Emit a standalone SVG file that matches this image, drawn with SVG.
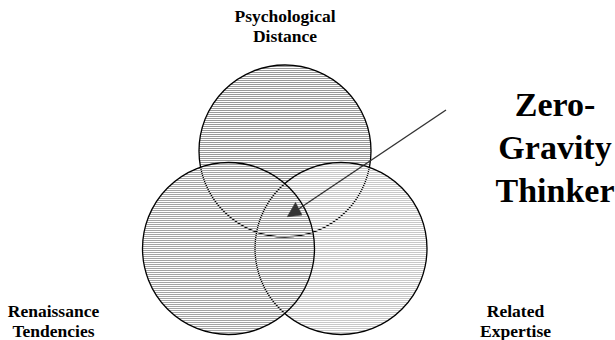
<svg xmlns="http://www.w3.org/2000/svg" width="615" height="340" viewBox="0 0 615 340">
<style>
.lbl{font-family:'Liberation Serif','Times New Roman',Tinos,'DejaVu Serif',serif;font-weight:bold;fill:#000;text-anchor:middle}
.small{font-size:17.5px}
.big{font-size:34px}
.ring{stroke:#000;stroke-width:1.3}
.conn{stroke:#333;stroke-width:1.4;fill:none}
.head{fill:#333;stroke:#333;stroke-width:0.6;stroke-linejoin:miter}
</style>
<defs>
<pattern id="hatchDark" patternUnits="userSpaceOnUse" width="8" height="2">
<rect x="0" y="0" width="8" height="1" fill="#9a9a9a"/>
</pattern>
<pattern id="hatchMid" patternUnits="userSpaceOnUse" width="8" height="2">
<rect x="0" y="0" width="8" height="1" fill="#a4a4a4"/>
</pattern>
<pattern id="hatchLight" patternUnits="userSpaceOnUse" width="8" height="2">
<rect x="0" y="0" width="8" height="1" fill="#c8c8c8"/>
</pattern>
</defs>
<g id="psychological-distance">
<circle class="ring" cx="285" cy="151" r="86" fill="url(#hatchDark)"/>
<text class="lbl small" x="285" y="22">Psychological</text>
<text class="lbl small" x="285" y="42">Distance</text>
</g>
<g id="related-expertise">
<circle class="ring" cx="341" cy="248.5" r="86" fill="url(#hatchLight)"/>
<text class="lbl small" x="515.5" y="317">Related</text>
<text class="lbl small" x="515.5" y="337">Expertise</text>
</g>
<g id="renaissance-tendencies">
<circle class="ring" cx="228.5" cy="248.5" r="86" fill="url(#hatchMid)"/>
<text class="lbl small" x="53.5" y="317">Renaissance</text>
<text class="lbl small" x="53.5" y="337">Tendencies</text>
</g>
<g id="zero-gravity-thinker">
<text class="lbl big" x="555" y="115.5">Zero-</text>
<text class="lbl big" x="555" y="159">Gravity</text>
<text class="lbl big" x="555" y="202">Thinker</text>
</g>
<g id="connectors">
<line class="conn" x1="446" y1="110" x2="298.5" y2="209"/>
<polygon class="head" points="287.3,216.7 295.5,202.5 302,215"/>
</g>
</svg>
